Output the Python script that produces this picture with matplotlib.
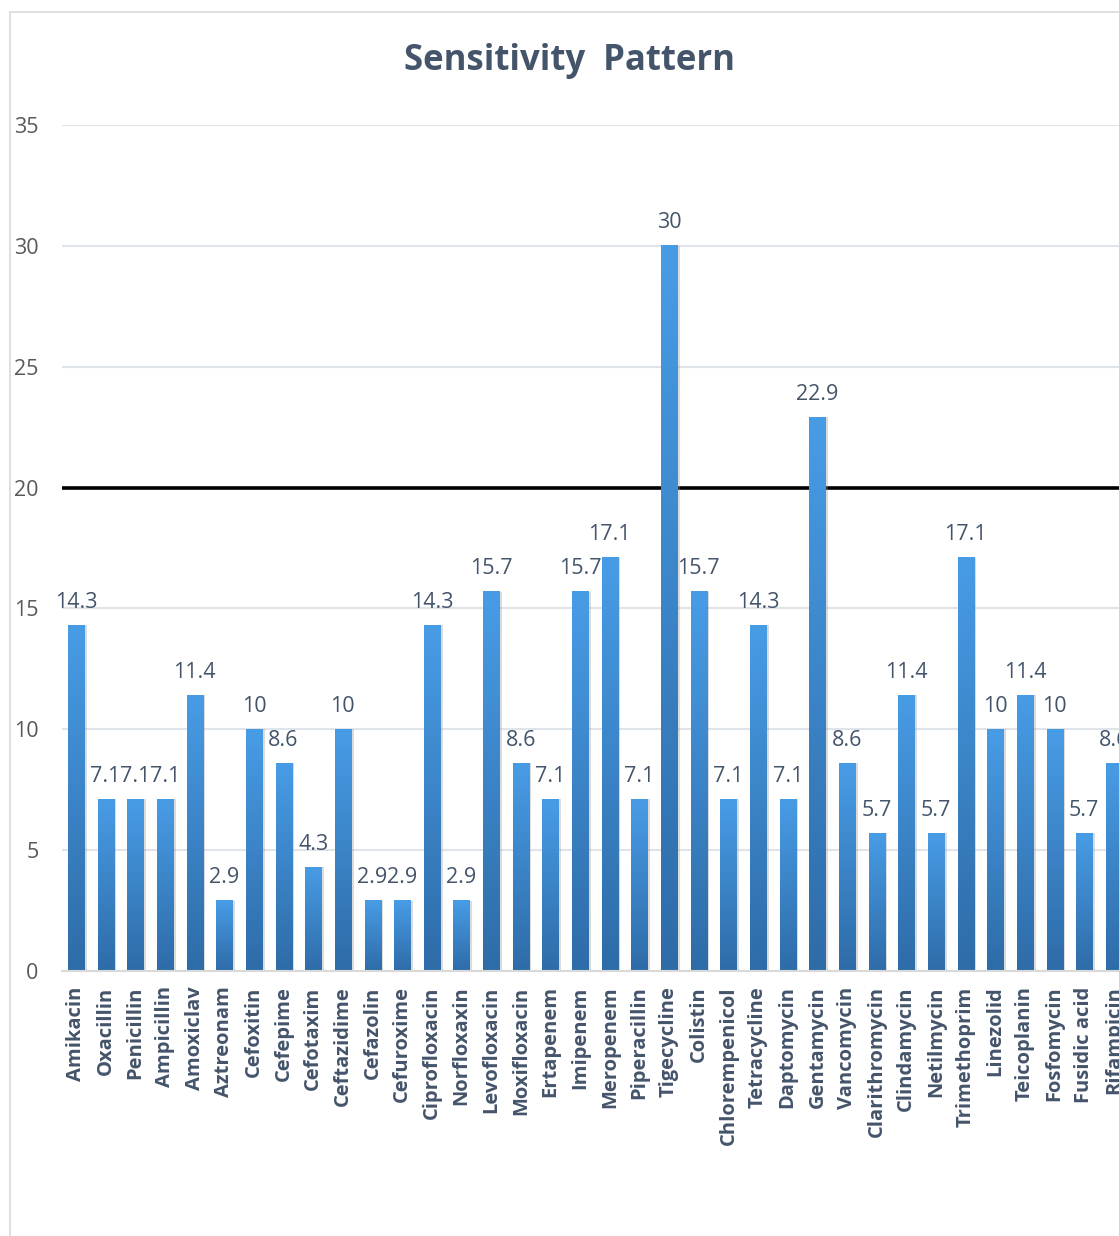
import matplotlib.pyplot as plt
import numpy as np
from matplotlib.patches import Rectangle

drugs = ["Amikacin", "Oxacillin", "Penicillin", "Ampicillin", "Amoxiclav", "Aztreonam",
         "Cefoxitin", "Cefepime", "Cefotaxim", "Ceftazidime", "Cefazolin", "Cefuroxime",
         "Ciprofloxacin", "Norfloxaxin", "Levofloxacin", "Moxifloxacin", "Ertapenem",
         "Imipenem", "Meropenem", "Piperacillin", "Tigecycline", "Colistin",
         "Chlorempenicol", "Tetracycline", "Daptomycin", "Gentamycin", "Vancomycin",
         "Clarithromycin", "Clindamycin", "Netilmycin", "Trimethoprim", "Linezolid",
         "Teicoplanin", "Fosfomycin", "Fusidic acid", "Rifampicin"]
sensitivity = [14.3, 7.1, 7.1, 7.1, 11.4, 2.9, 10, 8.6, 4.3, 10, 2.9, 2.9, 14.3, 2.9,
               15.7, 8.6, 7.1, 15.7, 17.1, 7.1, 30, 15.7, 7.1, 14.3, 7.1, 22.9, 8.6,
               5.7, 11.4, 5.7, 17.1, 10, 11.4, 10, 5.7, 8.6]
threshold = 20
yticks = [0, 5, 10, 15, 20, 25, 30, 35]

TEXT = "#44546A"
TOP_BLUE = np.array([0x48, 0x9c, 0xe6]) / 255
BOTTOM_BLUE = np.array([0x2e, 0x6c, 0xa8]) / 255

fig = plt.figure(figsize=(11.19, 12.36), dpi=100)
ax = fig.add_axes([62 / 1119, 1 - 971 / 1236, 1 - 62 / 1119, (971 - 125) / 1236])

x = np.arange(len(drugs))
width = 0.54

# vertical gradient, light at top, dark at bottom
grad = np.linspace(0, 1, 256)[:, None, None]
grad_img = TOP_BLUE * (1 - grad) + BOTTOM_BLUE * grad

for xi, val in zip(x, sensitivity):
    # soft shadow
    ax.bar(xi + 0.09, val, width=width, color="#9a9a9a", alpha=0.35, zorder=1.9, linewidth=0)
    ax.imshow(grad_img, extent=(xi - width / 2, xi + width / 2, 0, val),
              aspect="auto", zorder=2, interpolation="bilinear")
    ax.annotate(f"{val:g}", (xi, val), xytext=(0, 9), textcoords="offset points",
                ha="center", va="bottom", fontsize=15.5, color=TEXT, zorder=1.8,
                family="Open Sans")

ax.axhline(threshold, color="black", linewidth=2.6, zorder=1.7)

ax.set_xlim(-0.47, 35.17)
ax.set_ylim(0, 35)
ax.set_yticks(yticks)
ax.set_yticklabels([str(t) for t in yticks], fontsize=15.5, color="#595959", family="Open Sans")
ax.set_xticks(x)
ax.set_xticklabels(drugs, rotation=90, fontsize=14.5, fontweight="bold", color=TEXT,
                   family="Open Sans", va="top", ha="center")
ax.tick_params(axis="both", length=0)
ax.tick_params(axis="y", pad=17)
ax.tick_params(axis="x", pad=11)

ax.grid(axis="y", color="#dfe3ea", linewidth=1.5, zorder=0)
ax.set_axisbelow(True)
for side in ["top", "right", "left"]:
    ax.spines[side].set_visible(False)
ax.spines["bottom"].set_color("#d9d9d9")
ax.spines["bottom"].set_linewidth(1.5)

fig.text(570 / 1119, 1 - 61 / 1236, "Sensitivity  Pattern", ha="center", va="center",
         fontsize=25, fontweight="bold", color=TEXT, family="Open Sans")

# chart-area frame (only left and top edges visible in the crop)
fig.patches.append(Rectangle((10 / 1119, -0.01), 1.0, 1 - 12 / 1236 + 0.01,
                             transform=fig.transFigure, fill=False,
                             edgecolor="#d9d9d9", linewidth=1.2))

fig.savefig("out.png", dpi=100)
